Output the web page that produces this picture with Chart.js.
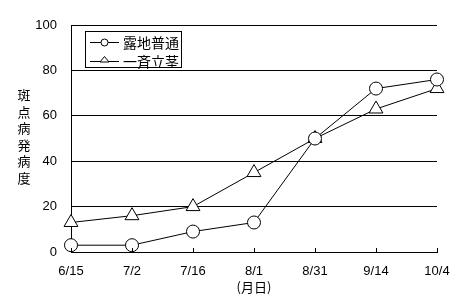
<!DOCTYPE html>
<html>
<head>
<meta charset="utf-8">
<script src="https://cdn.jsdelivr.net/npm/chart.js@4"></script>
<style>
  html, body { margin: 0; padding: 0; background: #fff; }
</style>
</head>
<body>
<canvas id="chart" width="470" height="307"></canvas>
<script>
// データ
const dates = ['6/15', '7/2', '7/16', '8/1', '8/31', '9/14', '10/4'];
const rojiFutsu = [3, 3, 9, 13, 50, 72, 76];
const isseiRikkei = [13, 16, 20, 35, 50, 63, 72];
const seriesLabels = ['露地普通', '一斉立茎'];
const yTicks = [0, 20, 40, 60, 80, 100];
const yTitle = '斑点病発病度';
const xTitle = '(月日)';

const jpFont = "'Noto Sans CJK JP', sans-serif";
const numFont = "'Liberation Sans', 'Noto Sans CJK JP', sans-serif";

// 凡例・縦書きタイトル・内向き目盛り
const decorations = {
    id: 'decorations',
    afterDraw(chart) {
        const ctx = chart.ctx;
        const ca = chart.chartArea;
        const xs = chart.scales.x;
        ctx.save();
        ctx.strokeStyle = '#000';
        ctx.fillStyle = '#000';
        ctx.lineWidth = 1;

        // x軸の目盛り(内向き)
        dates.forEach((d, i) => {
            const x = Math.round(xs.getPixelForTick(i)) + 0.5;
            ctx.beginPath();
            ctx.moveTo(x, Math.round(ca.bottom));
            ctx.lineTo(x, Math.round(ca.bottom) - 4);
            ctx.stroke();
        });

        // 縦書きのy軸タイトル
        ctx.font = '13px ' + jpFont;
        ctx.textAlign = 'center';
        ctx.textBaseline = 'middle';
        const pitch = 16.6;
        const midY = (ca.top + ca.bottom) / 2 - 2;
        const startY = midY - pitch * (yTitle.length - 1) / 2;
        [...yTitle].forEach((ch, i) => {
            ctx.fillText(ch, 24, startY + i * pitch);
        });

        // 凡例
        const box = { left: 85.5, top: 31.5, width: 96, height: 36 };
        ctx.fillStyle = '#fff';
        ctx.fillRect(box.left, box.top, box.width, box.height);
        ctx.strokeRect(box.left, box.top, box.width, box.height);
        ctx.font = '14px ' + jpFont;
        ctx.textAlign = 'left';
        const rows = [42.5, 61.5];
        chart.data.datasets.forEach((ds, i) => {
            const y = rows[i];
            ctx.strokeStyle = '#000';
            ctx.beginPath();
            ctx.moveTo(90, y);
            ctx.lineTo(119, y);
            ctx.stroke();
            ctx.fillStyle = '#fff';
            ctx.beginPath();
            if (ds.pointStyle === 'circle') {
                ctx.arc(104.5, y, 3.5, 0, Math.PI * 2);
            } else {
                ctx.moveTo(104.5, y - 5);
                ctx.lineTo(109, y + 0.5);
                ctx.lineTo(100, y + 0.5);
                ctx.closePath();
            }
            ctx.fill();
            ctx.stroke();
            ctx.fillStyle = '#000';
            ctx.fillText(ds.label, 123, y);
        });
        ctx.restore();
    }
};

const ctx = document.getElementById('chart').getContext('2d');
new Chart(ctx, {
    type: 'line',
    data: {
        labels: dates,
        datasets: [{
            label: seriesLabels[0],
            data: rojiFutsu,
            borderColor: '#000',
            borderWidth: 1,
            pointStyle: 'circle',
            pointRadius: 6.5,
            pointBackgroundColor: '#fff',
            pointBorderColor: '#000',
            pointBorderWidth: 1,
            tension: 0,
            clip: false
        }, {
            label: seriesLabels[1],
            data: isseiRikkei,
            borderColor: '#000',
            borderWidth: 1,
            pointStyle: 'triangle',
            pointRadius: 8,
            pointBackgroundColor: '#fff',
            pointBorderColor: '#000',
            pointBorderWidth: 1,
            tension: 0,
            clip: false
        }]
    },
    options: {
        responsive: false,
        animation: false,
        layout: { padding: { top: 25, right: 33, left: 0, bottom: 0 } },
        plugins: {
            legend: { display: false },
            tooltip: { enabled: false }
        },
        scales: {
            x: {
                offset: false,
                grid: { display: true, drawOnChartArea: false, drawTicks: false },
                border: { display: true, color: '#000', width: 1 },
                ticks: {
                    color: '#000',
                    font: { family: numFont, size: 13 },
                    padding: 12,
                    maxRotation: 0,
                    autoSkip: false
                },
                title: {
                    display: true,
                    text: xTitle,
                    color: '#000',
                    font: { family: jpFont, size: 13 },
                    padding: { top: 2, bottom: 12 }
                },
                afterFit: s => { s.height = 55; }
            },
            y: {
                min: yTicks[0],
                max: yTicks[yTicks.length - 1],
                afterBuildTicks: s => { s.ticks = yTicks.map(v => ({ value: v })); },
                grid: { color: '#000', lineWidth: 1, drawTicks: false },
                border: { display: true, color: '#000', width: 1 },
                ticks: {
                    color: '#000',
                    font: { family: numFont, size: 13 },
                    padding: 14
                },
                afterFit: s => { s.width = 71; }
            }
        }
    },
    plugins: [decorations]
});
</script>
</body>
</html>
